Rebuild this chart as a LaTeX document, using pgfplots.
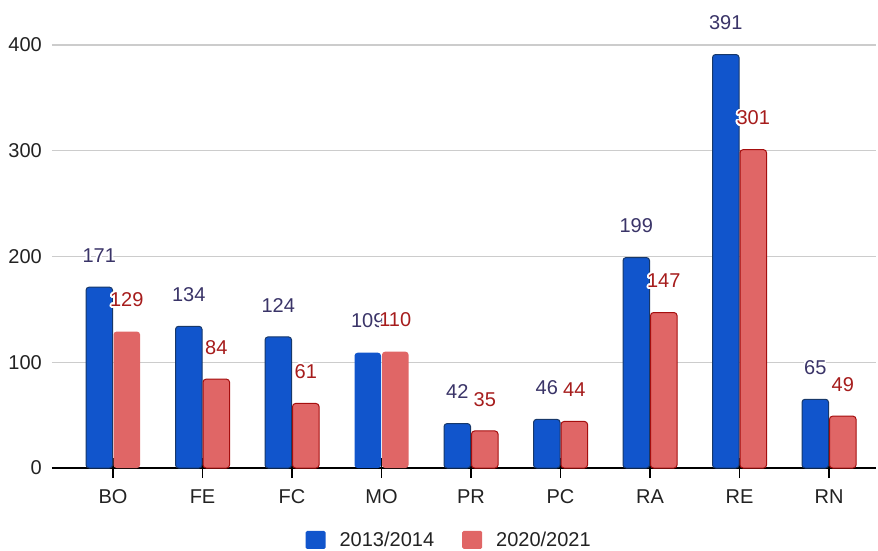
\documentclass[border=0pt]{standalone}
\usepackage{pgfplots}
\pgfplotsset{compat=1.18}
\usepackage{fontspec}
\setmainfont{Liberation Sans}
\usepackage{contour}
\contourlength{1.7pt}
\contournumber{24}
\definecolor{barblue}{HTML}{1155CC}
\definecolor{edgeblue}{HTML}{17386A}
\definecolor{barred}{HTML}{E06666}
\definecolor{edgered}{HTML}{A50E0E}
\definecolor{labblue}{HTML}{3A3468}
\definecolor{labred}{HTML}{A61C1C}
\definecolor{gridgray}{HTML}{CCCCCC}
\definecolor{txt}{HTML}{222222}
\newcommand\lbl{\fontsize{20}{23}\selectfont}
\begin{document}
\begin{tikzpicture}
\path[use as bounding box] (-52pt,-82pt) rectangle (826pt,468pt);
\begin{axis}[
  scale only axis,
  width=824pt, height=423pt,
  at={(0pt,0pt)}, anchor=south west,
  xmin=-0.682, xmax=8.525,
  ymin=0, ymax=400,
  clip=false,
  axis x line=bottom, axis y line=left,
  x axis line style={-, black, line width=1.3pt},
  y axis line style={draw=none},
  xtick={0,...,8},
  xticklabels={BO,FE,FC,MO,PR,PC,RA,RE,RN},
  ytick={0,100,200,300,400},
  major tick length=20pt,
  tick align=center,
  xtick style={black, line width=1.3pt},
  ytick style={draw=none},
  ymajorgrids,
  grid style={gridgray, line width=1.2pt},
  /pgf/number format/assume math mode=true,
  tick label style={font=\lbl, text=txt},
  xticklabel style={anchor=center, yshift=-19pt},
  yticklabel style={anchor=east, inner sep=0pt, xshift=0pt},
  bar width=26.5pt,
  nodes near coords={\contour{white}{\pgfmathprintnumber{\pgfplotspointmeta}}},
  every node near coord/.append style={font=\lbl, anchor=center, yshift=31pt},
  legend columns=-1,
  legend style={draw=none, fill=none, font=\lbl, text=txt,
    at={(0.482,-0.170)}, anchor=center,
    /tikz/every odd column/.append style={column sep=12pt},
    /tikz/every even column/.append style={column sep=26pt}},
  legend image code/.code={\fill[#1, draw=none, rounded corners=1.5pt] (0pt,-9pt) rectangle (20pt,9pt);},
]
% 2013/2014, bordered bars
\addplot[ybar, bar shift=-13.75pt, fill=barblue, draw=edgeblue, line width=1pt,
  rounded corners=3pt, nodes near coords style={text=labblue, xshift=-13.75pt}]
  coordinates {(0,171)(1,134)(2,124)(4,42)(5,46)(6,199)(7,391)(8,65)};
\addlegendentry{2013/2014}
\addplot[ybar, bar shift=-13.75pt, fill=barblue, draw=none, forget plot,
  rounded corners=3pt, nodes near coords style={text=labblue, xshift=-13.75pt}]
  coordinates {(3,109)};
% 2020/2021
\addplot[ybar, bar shift=13.75pt, fill=barred, draw=edgered, line width=1pt,
  rounded corners=3pt, nodes near coords style={text=labred, xshift=13.75pt}]
  coordinates {(1,84)(2,61)(4,35)(5,44)(6,147)(7,301)(8,49)};
\addlegendentry{2020/2021}
\addplot[ybar, bar shift=13.75pt, fill=barred, draw=none, forget plot,
  rounded corners=3pt, nodes near coords style={text=labred, xshift=13.75pt}]
  coordinates {(0,129)(3,110)};
\end{axis}
\end{tikzpicture}
\end{document}
